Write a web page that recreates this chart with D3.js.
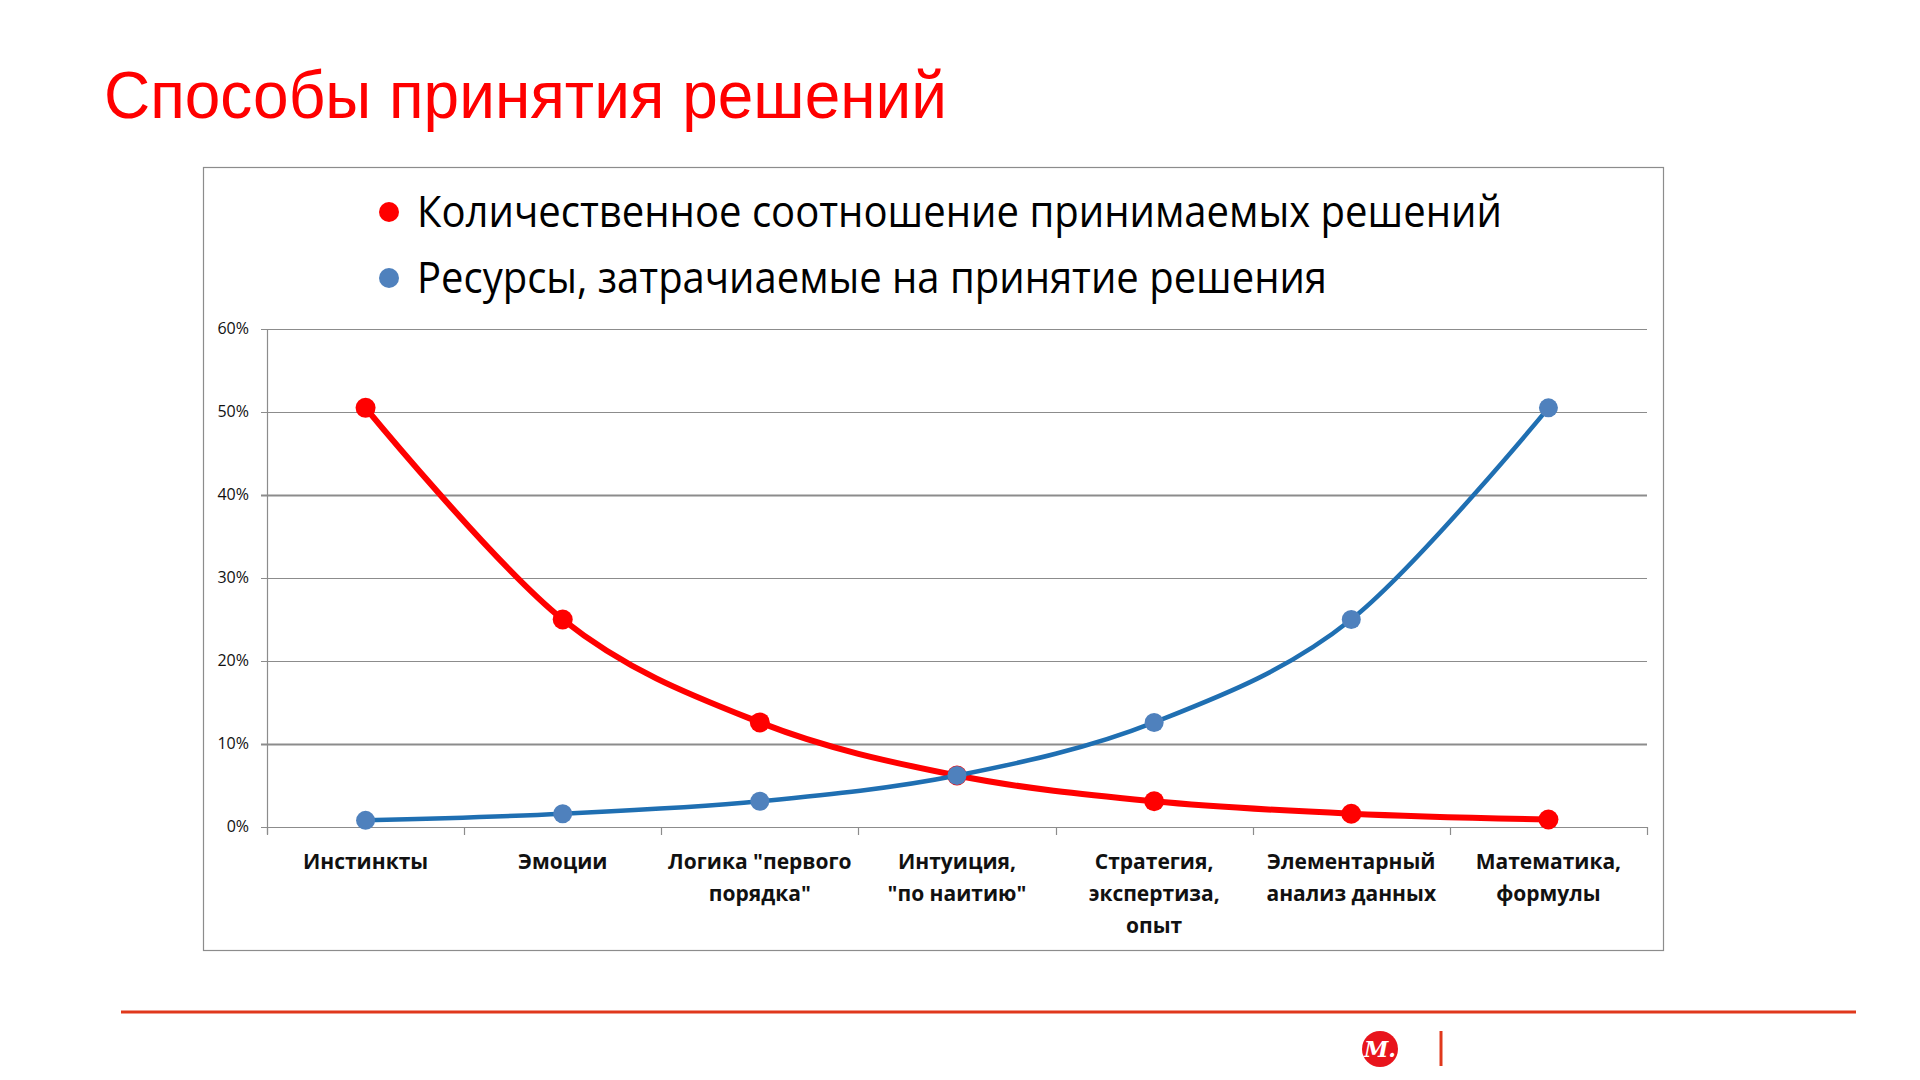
<!DOCTYPE html>
<html>
<head>
<meta charset="utf-8">
<script src="https://cdn.jsdelivr.net/npm/d3@7"></script>
<style>
  body { margin: 0; background: #fff; }
  svg { display: block; }
</style>
</head>
<body>
<div id="chart"></div>
<script>
// categories (line breaks as in the slide)
var categories = [
  "Инстинкты",
  "Эмоции",
  "Логика \"первого\nпорядка\"",
  "Интуиция,\n\"по наитию\"",
  "Стратегия,\nэкспертиза,\nопыт",
  "Элементарный\nанализ данных",
  "Математика,\nформулы"
];

// series values (share)
var decisionsShare = [0.505, 0.25, 0.126, 0.062, 0.031, 0.016, 0.009];
var resourcesShare = [0.008, 0.016, 0.031, 0.062, 0.126, 0.25, 0.505];

var seriesNames = [
  "Количественное соотношение принимаемых решений",
  "Ресурсы, затрачиаемые на принятие решения"
];

var yTicks = [0, 0.1, 0.2, 0.3, 0.4, 0.5, 0.6];

var W = 1920, H = 1080;
var svg = d3.select("#chart").append("svg")
    .attr("width", W)
    .attr("height", H);

//Title
svg.append("text")
    .attr("x", 104)
    .attr("y", 118)
    .attr("fill", "#ff0000")
    .style("font-family", "'Liberation Sans', Arial, sans-serif")
    .style("font-size", "66px")
    .attr("textLength", 843)
    .attr("lengthAdjust", "spacingAndGlyphs")
    .text("Способы принятия решений");

//Chart frame
svg.append("rect")
    .attr("x", 203.5)
    .attr("y", 167.5)
    .attr("width", 1460)
    .attr("height", 783)
    .attr("fill", "none")
    .attr("stroke", "#8c8c8c")
    .attr("stroke-width", 1.2);

//plot area
var plot = { left: 267, right: 1647, top: 329, bottom: 827 };

var x = d3.scaleBand()
    .domain(categories)
    .range([plot.left, plot.right]);

var y = d3.scaleLinear()
    .domain([0, 0.6])
    .range([plot.bottom, plot.top]);

var cx = function (c) { return x(c) + x.bandwidth() / 2; };

//gridlines
svg.append("g")
    .selectAll("line")
    .data(yTicks)
    .enter().append("line")
    .attr("x1", plot.left - 6)
    .attr("x2", plot.right)
    .attr("y1", function (d) { return Math.round(y(d)) + 0.5; })
    .attr("y2", function (d) { return Math.round(y(d)) + 0.5; })
    .attr("stroke", "#8c8c8c")
    .attr("stroke-width", function (d) { return (d == 0.1 || d == 0.4) ? 1.8 : 1.2; });

//y axis line
svg.append("line")
    .attr("x1", plot.left + 0.5).attr("x2", plot.left + 0.5)
    .attr("y1", plot.top).attr("y2", plot.bottom + 7)
    .attr("stroke", "#8c8c8c")
    .attr("stroke-width", 1.2);

//x axis boundary ticks
var boundaries = d3.range(categories.length + 1).map(function (i) {
    return plot.left + i * x.step();
});
svg.append("g")
    .selectAll("line")
    .data(boundaries)
    .enter().append("line")
    .attr("x1", function (d) { return Math.round(d) + 0.5; })
    .attr("x2", function (d) { return Math.round(d) + 0.5; })
    .attr("y1", plot.bottom)
    .attr("y2", plot.bottom + 8)
    .attr("stroke", "#8c8c8c")
    .attr("stroke-width", 1.2);

//y tick labels
svg.append("g")
    .selectAll("text")
    .data(yTicks)
    .enter().append("text")
    .attr("x", plot.left - 18)
    .attr("y", function (d) { return y(d) + 5; })
    .attr("text-anchor", "end")
    .style("font-family", "'Open Sans', sans-serif")
    .style("font-size", "16px")
    .attr("fill", "#111")
    .text(d3.format(".0%"));

//category labels
var catLabels = svg.append("g")
    .selectAll("text")
    .data(categories)
    .enter().append("text")
    .attr("text-anchor", "middle")
    .style("font-family", "'Open Sans', sans-serif")
    .style("font-weight", "bold")
    .style("font-size", "21px")
    .attr("fill", "#111");

catLabels.selectAll("tspan")
    .data(function (d) { return d.split("\n").map(function (t) { return { c: d, t: t }; }); })
    .enter().append("tspan")
    .attr("x", function (d) { return cx(d.c); })
    .attr("y", function (d, i) { return 869 + i * 32; })
    .text(function (d) { return d.t; });

//lines
var line = d3.line()
    .x(function (d, i) { return cx(categories[i]); })
    .y(function (d) { return y(d); })
    .curve(d3.curveCardinal.tension(0));

//red series first, blue one on top (as in the slide)
svg.append("path")
    .datum(decisionsShare)
    .attr("d", line)
    .attr("fill", "none")
    .attr("stroke", "#ff0000")
    .attr("stroke-width", 6);

svg.append("g")
    .selectAll("circle")
    .data(decisionsShare)
    .enter().append("circle")
    .attr("cx", function (d, i) { return cx(categories[i]); })
    .attr("cy", function (d) { return y(d); })
    .attr("r", 10)
    .attr("fill", "#ff0000");

svg.append("path")
    .datum(resourcesShare)
    .attr("d", line)
    .attr("fill", "none")
    .attr("stroke", "#1f6fb2")
    .attr("stroke-width", 4.5);

svg.append("g")
    .selectAll("circle")
    .data(resourcesShare)
    .enter().append("circle")
    .attr("cx", function (d, i) { return cx(categories[i]); })
    .attr("cy", function (d) { return y(d); })
    .attr("r", 9.5)
    .attr("fill", "#4f81bd");

//legend
var legendColors = ["#ff0000", "#4f81bd"];
var legendWidths = [1085, 910];
var legend = svg.append("g")
    .selectAll("g")
    .data(seriesNames)
    .enter().append("g")
    .attr("transform", function (d, i) { return "translate(389," + (212 + i * 66) + ")"; });

legend.append("circle")
    .attr("r", 10)
    .attr("fill", function (d, i) { return legendColors[i]; });

legend.append("text")
    .attr("x", 28)
    .attr("y", 15)
    .style("font-family", "'Open Sans', sans-serif")
    .style("font-size", "44px")
    .attr("fill", "#000")
    .attr("textLength", function (d, i) { return legendWidths[i]; })
    .attr("lengthAdjust", "spacingAndGlyphs")
    .text(function (d) { return d; });

//footer
svg.append("line")
    .attr("x1", 121).attr("x2", 1856)
    .attr("y1", 1012).attr("y2", 1012)
    .attr("stroke", "#e0381c")
    .attr("stroke-width", 3);

svg.append("circle")
    .attr("cx", 1380).attr("cy", 1049)
    .attr("r", 18)
    .attr("fill", "#e8141c");

svg.append("text")
    .attr("x", 1380).attr("y", 1057)
    .attr("text-anchor", "middle")
    .attr("fill", "#fff")
    .style("font-family", "'DejaVu Serif', serif")
    .style("font-style", "italic")
    .style("font-weight", "bold")
    .style("font-size", "22px")
    .text("М.");

svg.append("line")
    .attr("x1", 1441).attr("x2", 1441)
    .attr("y1", 1031).attr("y2", 1066)
    .attr("stroke", "#e0381c")
    .attr("stroke-width", 3);
</script>
</body>
</html>
